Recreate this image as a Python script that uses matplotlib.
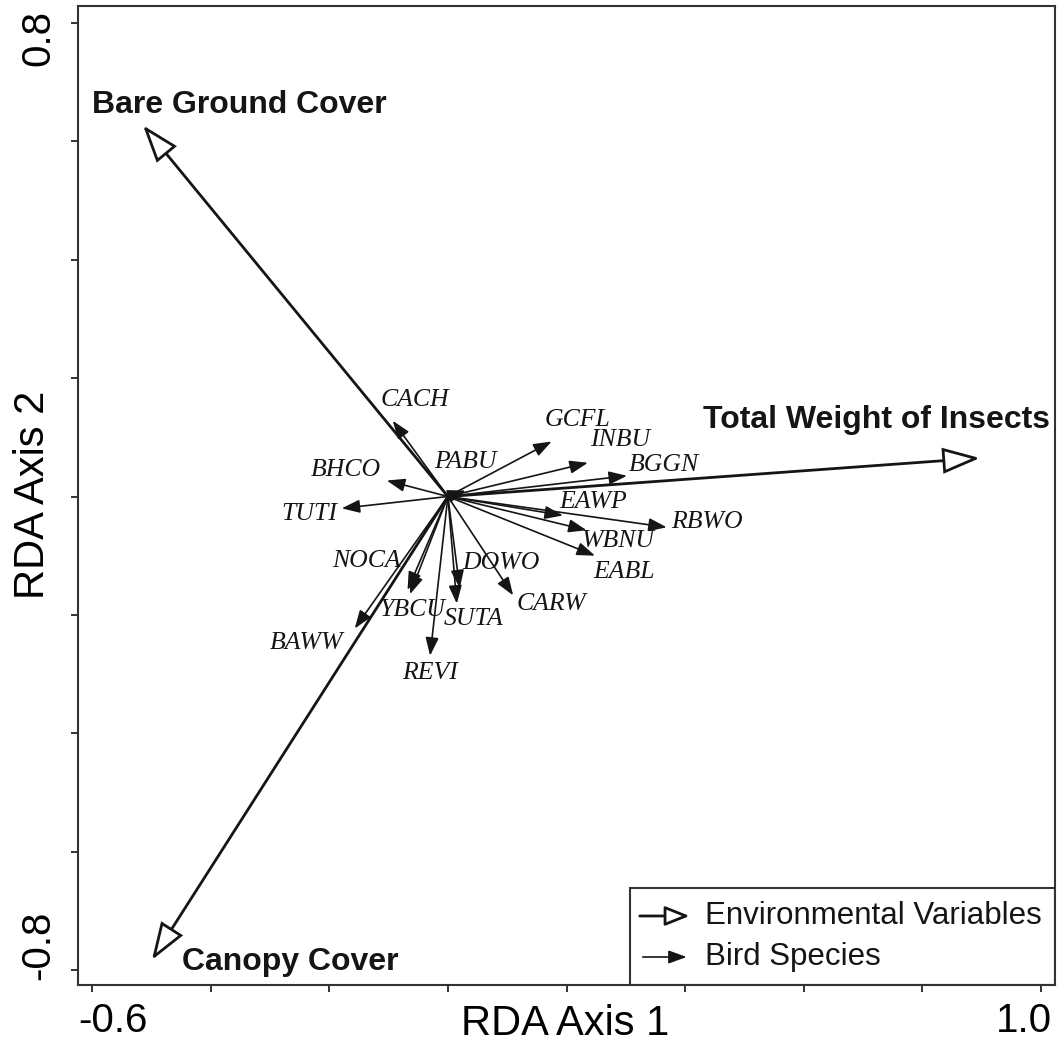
import numpy as np
import matplotlib
matplotlib.use("Agg")
import matplotlib.pyplot as plt
from matplotlib.patches import FancyArrowPatch, Rectangle

# environmental variable biplot scores
env_names = ["Bare Ground Cover", "Canopy Cover", "Total Weight of Insects"]
env_x = [-0.514, -0.499, 0.897]
env_y = [0.627, -0.783, 0.065]

# bird species scores
species = ["CACH", "PABU", "BHCO", "TUTI", "GCFL", "INBU", "BGGN", "EAWP", "RBWO",
           "WBNU", "EABL", "NOCA", "YBCU", "BAWW", "REVI", "SUTA", "DOWO", "CARW"]
sp_x = [-0.093, 0.030, -0.103, -0.179, 0.175, 0.236, 0.302, 0.194, 0.369,
        0.234, 0.248, -0.068, -0.064, -0.157, -0.030, 0.015, 0.020, 0.110]
sp_y = [0.128, 0.010, 0.027, -0.020, 0.093, 0.057, 0.035, -0.032, -0.052,
        -0.057, -0.100, -0.158, -0.165, -0.223, -0.269, -0.181, -0.155, -0.167]

# where the species names sit
sp_lab_x = [-0.056, 0.030, -0.172, -0.233, 0.219, 0.290, 0.364, 0.245, 0.437,
            0.287, 0.297, -0.138, -0.059, -0.238, -0.030, 0.044, 0.089, 0.174]
sp_lab_y = [0.163, 0.058, 0.045, -0.030, 0.129, 0.095, 0.053, -0.009, -0.043,
            -0.075, -0.128, -0.109, -0.192, -0.247, -0.298, -0.207, -0.112, -0.182]

# env label anchors (left edge, vertical centre)
env_lab_x = [-0.600, -0.449, 0.430]
env_lab_y = [0.661, -0.786, 0.129]

ink = "#151515"
sans = "Liberation Sans"
serif = "Liberation Serif"

W, H = 1061, 1053
fig = plt.figure(figsize=(W / 100, H / 100), dpi=100)
ax = fig.add_axes([78 / W, 1 - 985 / H, 977 / W, 979 / H])
ax.set_xlim(-0.6236, 1.0236)
ax.set_ylim(-0.8253, 0.8287)

# species arrows
for x, y in zip(sp_x, sp_y):
    a = FancyArrowPatch((0, 0), (x, y), arrowstyle="-|>,head_length=11,head_width=4",
                        mutation_scale=1, lw=1.2, color=ink, shrinkA=0, shrinkB=0, zorder=2)
    ax.add_patch(a)

for name, lx, ly in zip(species, sp_lab_x, sp_lab_y):
    ax.text(lx, ly, name, family=serif, style="italic", fontsize=18.5, color=ink,
            ha="center", va="center", zorder=3)

# environmental arrows with open heads
for x, y in zip(env_x, env_y):
    a = FancyArrowPatch((0, 0), (x, y), arrowstyle="-|>,head_length=23,head_width=8",
                        mutation_scale=1, lw=2.0, edgecolor=ink, facecolor="white",
                        shrinkA=0, shrinkB=0, zorder=4, joinstyle="miter")
    ax.add_patch(a)

for name, lx, ly in zip(env_names, env_lab_x, env_lab_y):
    ax.text(lx, ly, name, family=sans, weight="bold", fontsize=23, color=ink,
            ha="left", va="center", zorder=5)

# legend box
ax.add_patch(Rectangle((0.565, 0.0), 0.435, 0.099, transform=ax.transAxes,
                       fill=False, edgecolor="#333333", lw=1.5, zorder=6))
ax.add_patch(FancyArrowPatch((0.575, 0.0705), (0.626, 0.0705), transform=ax.transAxes,
                             arrowstyle="-|>,head_length=15,head_width=6", mutation_scale=1,
                             lw=2.0, edgecolor=ink, facecolor="white",
                             shrinkA=0, shrinkB=0, zorder=7))
ax.add_patch(FancyArrowPatch((0.578, 0.0286), (0.623, 0.0286), transform=ax.transAxes,
                             arrowstyle="-|>,head_length=11,head_width=4", mutation_scale=1,
                             lw=1.2, color=ink, shrinkA=0, shrinkB=0, zorder=7))
ax.text(0.642, 0.0705, "Environmental Variables", transform=ax.transAxes, family=sans,
        fontsize=22.5, color=ink, ha="left", va="center")
ax.text(0.642, 0.0286, "Bird Species", transform=ax.transAxes, family=sans,
        fontsize=22.5, color=ink, ha="left", va="center")

# axes frame and ticks
for s in ax.spines.values():
    s.set_linewidth(1.5)
    s.set_color("#333333")
ax.set_xticks(np.arange(-0.6, 1.01, 0.2))
ax.set_yticks(np.arange(-0.8, 0.81, 0.2))
ax.tick_params(direction="out", length=5, width=1.4, color="#333333",
               labelbottom=False, labelleft=False)

# end tick labels and axis titles
fig.text(78 / W, 1 - 1021 / H, "-0.6", family=sans, fontsize=29, ha="left", va="center")
fig.text(1052 / W, 1 - 1021 / H, "1.0", family=sans, fontsize=29, ha="right", va="center")
fig.text(38 / W, 1 - 10 / H, "0.8", family=sans, fontsize=29, rotation=90, ha="center", va="top")
fig.text(38 / W, 1 - 980 / H, "-0.8", family=sans, fontsize=29, rotation=90, ha="center", va="bottom")
fig.text(565 / W, 1 - 1024 / H, "RDA Axis 1", family=sans, fontsize=30, ha="center", va="center")
fig.text(33 / W, 1 - 495 / H, "RDA Axis 2", family=sans, fontsize=30, rotation=90,
         ha="center", va="center")

fig.savefig("out.png", dpi=100)
